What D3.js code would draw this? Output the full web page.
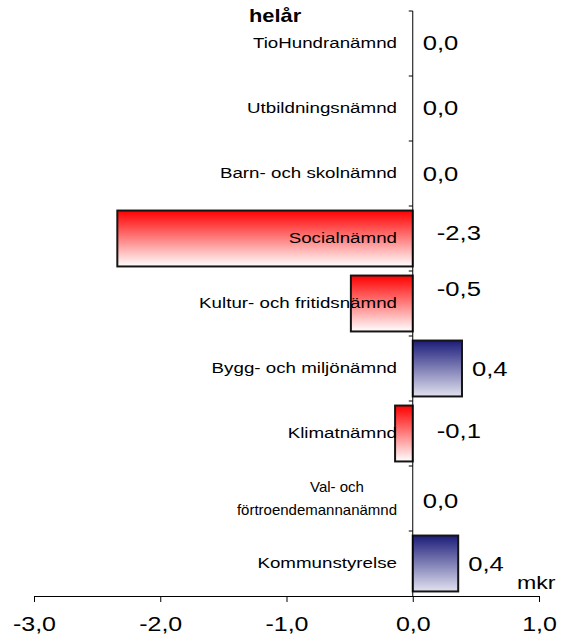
<!DOCTYPE html>
<html lang="sv">
<head>
<meta charset="UTF-8">
<title>helår</title>
<script src="https://d3js.org/d3.v7.min.js"></script>
<style>
  body { margin: 0; background: #fff; }
  svg { display: block; font-family: Arial, "Liberation Sans", sans-serif; }
</style>
</head>
<body>
<svg id="chart" width="561" height="637"></svg>
<script>
// data, top to bottom
const categories = [
  "TioHundranämnd",
  "Utbildningsnämnd",
  "Barn- och skolnämnd",
  "Socialnämnd",
  "Kultur- och fritidsnämnd",
  "Bygg- och miljönämnd",
  "Klimatnämnd",
  "Val- och|förtroendemannanämnd",
  "Kommunstyrelse"
];
const values = [0, 0, 0, -2.34, -0.49, 0.39, -0.14, 0, 0.36];
const xTicks = [-3, -2, -1, 0, 1];

// manual label nudges (px), the original chart had some labels moved up
const labelDy = [-1, -1, 0, -6, -15, 0, -3, 2, 0];

const SX = 1.25; // the source image is stretched horizontally
const svg = d3.select("#chart");
const fmt = v => d3.format(".1f")(v).replace(".", ",").replace("−", "-");

function txt(g, x0, y0, s, size, anchor, sx = SX) {
  return g.append("text")
      .attr("transform", `translate(${x0},${y0}) scale(${sx},1)`)
      .attr("font-size", size)
      .attr("text-anchor", anchor || "start")
      .attr("dominant-baseline", "central")
      .text(s);
}

const x = d3.scaleLinear().domain([-3, 1]).range([34, 539]);
const y = d3.scaleBand().domain(categories).range([11, 596])
    .paddingInner(0.14).paddingOuter(0.07);
const mid = c => y(c) + y.bandwidth() / 2;

const defs = svg.append("defs");
function grad(id, top, bottom) {
  const g = defs.append("linearGradient").attr("id", id)
      .attr("x1", 0).attr("y1", 0).attr("x2", 0).attr("y2", 1);
  g.append("stop").attr("offset", 0).attr("stop-color", top);
  g.append("stop").attr("offset", 1).attr("stop-color", bottom);
}
grad("gNeg", "#ff0000", "#ffffff");
grad("gPos", "#1c1c7a", "#e2e2f0");

// bars
svg.append("g").selectAll("rect")
  .data(values.map((v, i) => ({ c: categories[i], v })).filter(d => d.v !== 0))
  .join("rect")
    .attr("x", d => x(Math.min(0, d.v)))
    .attr("y", d => y(d.c))
    .attr("width", d => Math.abs(x(d.v) - x(0)))
    .attr("height", y.bandwidth())
    .attr("fill", d => d.v < 0 ? "url(#gNeg)" : "url(#gPos)")
    .attr("stroke", "#151515")
    .attr("stroke-width", 2);

// zero line with small ticks between categories
const step = y.step();
const zl = svg.append("g").attr("stroke", "#000").attr("stroke-width", 1);
zl.append("line").attr("x1", x(0)).attr("x2", x(0)).attr("y1", 11).attr("y2", 596);
d3.range(categories.length).forEach(i => {
  const yy = y.range()[0] + i * step;
  zl.append("line").attr("x1", x(0) - 4).attr("x2", x(0)).attr("y1", yy).attr("y2", yy);
});

// category labels (on top of the bars)
const catG = svg.append("g");
categories.forEach(c => {
  const lines = c.split("|");
  if (lines.length === 1) {
    txt(catG, 397, mid(c), c, 15, "end");
  } else {
    txt(catG, 337, mid(c) - 12, lines[0], 15, "middle", 1);
    txt(catG, 397, mid(c) + 11, lines[1], 15, "end", 1);
  }
});

// value labels
const valG = svg.append("g");
values.forEach((v, i) => {
  const lx = v < 0 ? x(0) + 24 : x(v) + 10;
  txt(valG, lx, mid(categories[i]) + labelDy[i], fmt(v), 20.5);
});

// x axis
const xAxis = svg.append("g")
    .attr("transform", "translate(0,596)")
    .call(d3.axisBottom(x).tickValues(xTicks).tickSize(6).tickSizeOuter(0)
      .tickPadding(15).tickFormat(fmt));
xAxis.select(".domain").attr("stroke", "#000");
xAxis.selectAll(".tick line").attr("stroke", "#000");
xAxis.selectAll("text")
    .attr("fill", "#000").attr("font-family", null).attr("font-size", 20)
    .attr("transform", `scale(${SX},1)`);

// titles
txt(svg, 249, 16, "helår", 17.5).attr("font-weight", "bold");
txt(svg, 517, 582, "mkr", 18.5);
</script>
</body>
</html>
